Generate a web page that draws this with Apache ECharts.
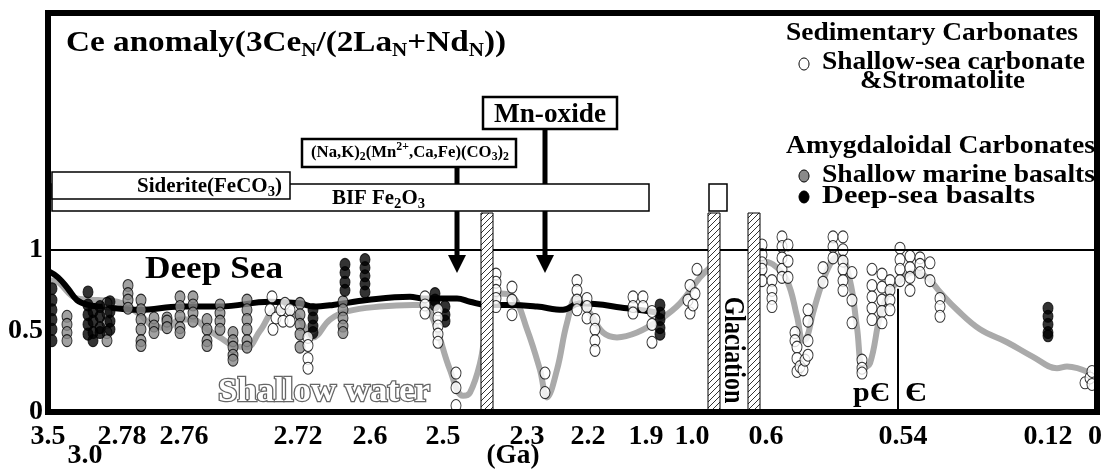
<!DOCTYPE html>
<html><head><meta charset="utf-8">
<script src="https://cdn.jsdelivr.net/npm/echarts@6/dist/echarts.min.js"></script>
<style>html,body{margin:0;padding:0;background:#fff}#c{width:1107px;height:469px}</style>
</head><body><div id="c"></div>
<script>
// x = position along the figure's non-linear age axis (0 = 3.5 Ga at left edge, 1049 = present at right edge)
const xTickLabels = ['3.5','3.0','2.78','2.76','2.72','2.6','2.5','2.3','2.2','1.9','1.0','0.6','0.54','0.12','0'];
const xTickPositions = [0,37,74,136,250,322,395,479,540,598,644,718,855,1000,1047];
const xTickRows = [0,1,0,0,0,0,0,0,0,0,0,0,0,0,0];
const xAxisName = '(Ga)';
const xAxisNamePos = 465;
const yTickValues = [0, 0.5, 1];

const deepSeaCurve = [[0,0.87],[10,0.83],[20,0.76],[29,0.69],[40,0.66],[52,0.65],[92,0.63],[132,0.65],[172,0.65],[222,0.68],[252,0.67],[265,0.65],[285,0.66],[319,0.69],[362,0.71],[375,0.70],[409,0.70],[422,0.68],[439,0.66],[462,0.66],[489,0.65],[515,0.63],[532,0.67],[579,0.64],[612,0.61]];

const shallowWaterCurveEarly = [[0,0.81],[5,0.81],[29,0.70],[50,0.69],[69,0.68],[92,0.60],[105,0.53],[119,0.52],[132,0.57],[145,0.57],[159,0.51],[172,0.46],[185,0.41],[199,0.40],[212,0.50],[229,0.63],[249,0.59],[265,0.46],[282,0.57],[299,0.62],[332,0.65],[365,0.66],[375,0.66],[382,0.61],[389,0.51],[402,0.26],[415,0.10],[422,0.12],[432,0.30],[440,0.57],[452,0.73],[465,0.71],[479,0.51],[492,0.26],[499,0.09],[509,0.26],[519,0.55],[529,0.71],[542,0.61],[555,0.49],[569,0.46],[589,0.49],[612,0.57],[632,0.67],[652,0.83],[662,0.89]];

const shallowWaterCurveLate = [[712,0.93],[725,0.91],[739,0.81],[749,0.59],[755,0.44],[759,0.46],[765,0.61],[775,0.81],[785,0.94],[792,0.96],[802,0.81],[809,0.52],[815,0.27],[822,0.30],[832,0.59],[842,0.75],[852,0.81],[865,0.86],[879,0.83],[892,0.74],[909,0.63],[932,0.51],[959,0.43],[985,0.34],[1009,0.27],[1019,0.28],[1042,0.24]];

const shallowSeaCarbonate = [[224,0.71],[222,0.63],[228,0.58],[235,0.56],[225,0.51],[233,0.63],[237,0.67],[242,0.63],[242,0.56],
[260,0.46],[260,0.41],[260,0.33],[260,0.27],
[377,0.71],[377,0.66],[377,0.61],
[390,0.63],[390,0.58],[390,0.53],[390,0.48],[390,0.43],
[408,0.24],[408,0.15],[408,0.04],
[448,0.85],[448,0.80],[448,0.75],[448,0.70],[448,0.65],
[464,0.77],[464,0.69],[464,0.60],
[497,0.24],[497,0.12],
[529,0.81],[529,0.75],[529,0.69],[529,0.63],
[539,0.70],[539,0.65],[539,0.58],
[547,0.57],[547,0.51],[547,0.44],[547,0.38],
[585,0.71],[585,0.65],[585,0.61],[595,0.71],[595,0.65],
[604,0.62],[604,0.54],[604,0.43],
[649,0.88],[642,0.78],[640,0.69],[647,0.73],[642,0.61],[645,0.66],
[714,1.03],[714,0.97],[714,0.92],[714,0.88],[714,0.81],
[724,0.81],[724,0.75],[724,0.70],[724,0.65],
[734,1.08],[734,1.02],[734,0.95],[734,0.88],[734,0.83],
[740,1.03],[740,0.93],[740,0.83],
[747,0.49],[747,0.44],[749,0.40],[749,0.33],[749,0.25],[752,0.28],[755,0.26],[757,0.32],[760,0.35],[760,0.44],[760,0.56],[760,0.63],
[775,0.89],[775,0.80],
[785,1.08],[785,1.02],[785,0.95],
[795,1.08],[795,1.00],[795,0.93],[795,0.88],[795,0.81],[795,0.75],
[804,0.86],[804,0.69],[804,0.55],
[814,0.32],[814,0.27],[814,0.24],
[824,0.88],[824,0.78],[824,0.71],[824,0.64],[824,0.57],
[834,0.85],[834,0.77],[834,0.69],[834,0.62],[834,0.55],
[842,0.81],[842,0.75],[842,0.69],[842,0.63],
[852,1.01],[852,0.94],[852,0.88],[852,0.81],
[862,0.96],[862,0.89],[862,0.83],[862,0.75],
[872,0.95],[872,0.91],[872,0.86],
[882,0.92],[882,0.81],
[892,0.70],[892,0.65],[892,0.59],
[1037,0.18],[1042,0.21],[1044,0.25],[1044,0.17]];

const shallowMarineBasalt = [[19,0.59],[19,0.54],[19,0.49],[19,0.44],
[59,0.67],[59,0.61],[59,0.55],[59,0.49],[59,0.44],
[80,0.78],[80,0.73],[80,0.69],[80,0.64],
[93,0.69],[93,0.63],[93,0.57],[93,0.51],[93,0.44],[93,0.41],
[106,0.58],[106,0.53],[106,0.49],
[119,0.58],[119,0.56],[119,0.52],
[132,0.71],[132,0.65],[132,0.59],[132,0.52],[132,0.49],
[145,0.71],[145,0.66],[145,0.61],[145,0.56],
[159,0.57],[159,0.51],[159,0.44],[159,0.41],
[172,0.66],[172,0.61],[172,0.56],[172,0.51],
[185,0.49],[185,0.44],[185,0.40],[185,0.35],[185,0.32],
[199,0.69],[199,0.63],[199,0.57],[199,0.51],[199,0.44],[199,0.40],
[252,0.67],[252,0.60],[252,0.54],[252,0.48],[252,0.40],
[295,0.68],[295,0.63],[295,0.58],[295,0.53],[295,0.49]];

const deepSeaBasalt = [[4,0.76],[4,0.69],[4,0.63],[4,0.57],[4,0.51],[4,0.44],
[40,0.74],[40,0.66],[40,0.60],[40,0.54],[40,0.48],
[45,0.62],[45,0.56],[45,0.49],[45,0.44],
[52,0.65],[52,0.59],[52,0.52],[52,0.49],
[62,0.68],[62,0.62],[62,0.56],[62,0.51],
[265,0.63],[265,0.58],[265,0.53],[265,0.49],
[297,0.91],[297,0.86],[297,0.80],[297,0.75],
[317,0.94],[317,0.89],[317,0.84],[317,0.79],[317,0.74],
[387,0.73],[387,0.69],[387,0.66],
[397,0.65],[397,0.60],[397,0.56],
[612,0.66],[612,0.61],[612,0.57],[612,0.52],[612,0.48],
[1000,0.64],[1000,0.59],[1000,0.54],[1000,0.49],[1000,0.47]];

const boundaryPos = 850;      // Precambrian / Cambrian boundary line
const boundaryTop = 0.76;

const FAMILY = '"Liberation Serif","Times New Roman",serif';
const fontStr = s => 'bold ' + s + 'px ' + FAMILY;
const mctx = document.createElement('canvas').getContext('2d');

function runEls(pieces, opt) {
  const widths = pieces.map(p => { mctx.font = fontStr(p.s); return mctx.measureText(p.t).width; });
  const total = widths.reduce((a, b) => a + b, 0);
  const sx = opt.w ? opt.w / total : (opt.sx || 1);
  let cx = opt.align === 'center' ? opt.x - total * sx / 2 : opt.align === 'right' ? opt.x - total * sx : opt.x;
  const els = [];
  pieces.forEach((p, i) => {
    const st = { text: p.t, font: fontStr(p.s), fill: opt.fill || '#000', align: 'left', verticalAlign: 'middle', textAlign: 'left', textVerticalAlign: 'middle' };
    if (opt.stroke) { st.stroke = opt.stroke; st.lineWidth = opt.lineWidth || 1; }
    els.push({ type: 'text', x: cx, y: opt.y + (p.dy || 0), scaleX: sx, z: opt.z || 50, silent: true, style: st });
    cx += widths[i] * sx;
  });
  return els;
}

function hatchCanvas() {
  const c = document.createElement('canvas'); c.width = 6; c.height = 6;
  const g = c.getContext('2d');
  g.fillStyle = '#fff'; g.fillRect(0, 0, 6, 6);
  g.strokeStyle = '#000'; g.lineWidth = 0.8;
  g.beginPath(); g.moveTo(0, 6); g.lineTo(6, 0); g.moveTo(-1, 1); g.lineTo(1, -1); g.moveTo(5, 7); g.lineTo(7, 5); g.stroke();
  return c;
}

const chart = echarts.init(document.getElementById('c'), null, { renderer: 'canvas' });
const ptStyle = c => ({ color: c, borderColor: '#000', borderWidth: 1 });
const option = {
  animation: false,
  backgroundColor: '#fff',
  grid: { left: 48, right: 10, top: 13, bottom: 57, show: false },
  xAxis: { type: 'value', min: 0, max: 1049, axisLine: { show: false }, axisTick: { show: false }, axisLabel: { show: false }, splitLine: { show: false } },
  yAxis: { type: 'value', min: 0, max: 2.46, interval: 0.5,
    axisLine: { show: false }, axisTick: { show: false }, splitLine: { show: false },
    axisLabel: { margin: 5, color: '#000', fontFamily: FAMILY, fontWeight: 'bold', fontSize: 28,
      formatter: v => (yTickValues.indexOf(v) >= 0 ? String(v) : '') } },
  series: [
    { type: 'line', data: shallowWaterCurveEarly, smooth: 0.4, symbol: 'none', lineStyle: { color: '#aaaaaa', width: 6 }, z: 1, silent: true },
    { type: 'line', data: shallowWaterCurveLate, smooth: 0.4, symbol: 'none', lineStyle: { color: '#aaaaaa', width: 6 }, z: 1, silent: true,
      markLine: { silent: true, symbol: 'none', label: { show: false }, lineStyle: { color: '#000', width: 2, type: 'solid' },
        data: [[{ coord: [boundaryPos, 0] }, { coord: [boundaryPos, boundaryTop] }]] } },
    { type: 'line', data: deepSeaCurve, smooth: 0.4, symbol: 'none', lineStyle: { color: '#000', width: 6 }, z: 2, silent: true,
      markLine: { silent: true, symbol: 'none', label: { show: false }, lineStyle: { color: '#000', width: 2, type: 'solid' }, data: [{ yAxis: 1 }] } },
    { type: 'scatter', data: shallowMarineBasalt, symbol: 'circle', symbolSize: [10, 12], itemStyle: ptStyle('#8a8a8a'), z: 3 },
    { type: 'scatter', data: deepSeaBasalt, symbol: 'circle', symbolSize: [10, 12], itemStyle: ptStyle('#000'), z: 3 },
    { type: 'scatter', data: shallowSeaCarbonate, symbol: 'circle', symbolSize: [10, 12], itemStyle: ptStyle('#fff'), z: 3 }
  ]
};
chart.setOption(option);

const toPx = (x, y) => chart.convertToPixel({ gridIndex: 0 }, [x, y]);
const rowY = [437, 456];
const g = [];
// tick labels
xTickLabels.forEach((t, i) => {
  const p = toPx(xTickPositions[i], 0);
  g.push({ type: 'text', x: p[0], y: rowY[xTickRows[i]], z: 50, silent: true,
    style: { text: t, font: fontStr(28), fill: '#000', align: 'center', verticalAlign: 'middle', textAlign: 'center', textVerticalAlign: 'middle' } });
});
g.push(...runEls([{ t: xAxisName, s: 28 }], { x: toPx(xAxisNamePos, 0)[0], y: rowY[1], align: 'center', w: 53 }));

// frame
const tl = toPx(0, 2.46), br = toPx(1049, 0);
g.push({ type: 'rect', z: 60, silent: true, shape: { x: tl[0], y: tl[1], width: br[0] - tl[0], height: br[1] - tl[1] }, style: { fill: 'none', stroke: '#000', lineWidth: 6 } });

// title
g.push(...runEls([{ t: 'Ce anomaly(3Ce', s: 30 }, { t: 'N', s: 19, dy: 8 }, { t: '/(2La', s: 30 }, { t: 'N', s: 19, dy: 8 }, { t: '+Nd', s: 30 }, { t: 'N', s: 19, dy: 8 }, { t: '))', s: 30 }], { x: 66, y: 43, w: 440 }));

// legend
g.push(...runEls([{ t: 'Sedimentary Carbonates', s: 25 }], { x: 786, y: 34, w: 292 }));
g.push(...runEls([{ t: 'Shallow-sea carbonate', s: 25 }], { x: 822, y: 63, w: 263 }));
g.push(...runEls([{ t: '&Stromatolite', s: 25 }], { x: 860, y: 82, w: 165 }));
g.push(...runEls([{ t: 'Amygdaloidal Carbonates', s: 25 }], { x: 786, y: 147, w: 309 }));
g.push(...runEls([{ t: 'Shallow marine basalts', s: 25 }], { x: 822, y: 176, w: 273 }));
g.push(...runEls([{ t: 'Deep-sea basalts', s: 25 }], { x: 822, y: 197, w: 213 }));
[['#fff', 64], ['#8a8a8a', 176], ['#000', 197]].forEach(([c, y]) => {
  g.push({ type: 'ellipse', z: 50, silent: true, shape: { cx: 804, cy: y, rx: 5, ry: 6 }, style: { fill: c, stroke: '#000', lineWidth: 1 } });
});

// arrows (under the BIF box)
[[457, 167], [545, 129]].forEach(([x, y0]) => {
  g.push({ type: 'line', z: 40, silent: true, shape: { x1: x, y1: y0, x2: x, y2: 258 }, style: { stroke: '#000', lineWidth: 5 } });
  g.push({ type: 'polygon', z: 40, silent: true, shape: { points: [[x - 9, 255], [x + 9, 255], [x, 273]] }, style: { fill: '#000' } });
});
// boxes
const box = (x, y, w, h, lw, z) => ({ type: 'rect', z: z, silent: true, shape: { x, y, width: w, height: h }, style: { fill: '#fff', stroke: '#000', lineWidth: lw } });
g.push(box(52, 184, 597, 27, 1.5, 44));
g.push(box(52, 172, 238, 27, 1.5, 45));
g.push(box(709, 184, 18, 27, 1.5, 45));
g.push(box(302, 139, 214, 28, 2.5, 45));
g.push(box(483, 97, 134, 32, 2.5, 45));
g.push(...runEls([{ t: 'Siderite(FeCO', s: 20 }, { t: '3', s: 14, dy: 5 }, { t: ')', s: 20 }], { x: 137, y: 187, w: 145 }));
g.push(...runEls([{ t: 'BIF Fe', s: 20 }, { t: '2', s: 14, dy: 5 }, { t: 'O', s: 20 }, { t: '3', s: 14, dy: 5 }], { x: 332, y: 199, w: 93 }));
g.push(...runEls([{ t: '(Na,K)', s: 17 }, { t: '2', s: 12, dy: 4 }, { t: '(Mn', s: 17 }, { t: '2+', s: 12, dy: -6 }, { t: ',Ca,Fe)(CO', s: 17 }, { t: '3', s: 12, dy: 4 }, { t: ')', s: 17 }, { t: '2', s: 12, dy: 4 }], { x: 311, y: 153, w: 198 }));
g.push(...runEls([{ t: 'Mn-oxide', s: 28 }], { x: 550, y: 115, w: 112, align: 'center' }));

// hatched glaciation bars
const hc = hatchCanvas();
[[481, 12], [708, 12], [748, 12]].forEach(([x, w]) => {
  g.push({ type: 'rect', z: 30, silent: true, shape: { x, y: 213, width: w, height: br[1] - 213 }, style: { fill: { image: hc, repeat: 'repeat' }, stroke: '#000', lineWidth: 1 } });
});
g.push({ type: 'text', x: 733, y: 350, rotation: -Math.PI / 2, scaleY: 1.25, z: 50, silent: true,
  style: { text: 'Glaciation', font: fontStr(24), fill: '#000', align: 'center', verticalAlign: 'middle', textAlign: 'center', textVerticalAlign: 'middle' } });

// in-plot labels
g.push(...runEls([{ t: 'Deep Sea', s: 31 }], { x: 145, y: 270, w: 138 }));
g.push(...runEls([{ t: 'Shallow water', s: 33 }], { x: 218, y: 392, w: 212, fill: '#fff', stroke: '#666', lineWidth: 2.5 }));
g.push(...runEls([{ t: 'p\u0404', s: 28 }], { x: 890, y: 394, w: 37, align: 'right' }));
g.push(...runEls([{ t: '\u0404', s: 28 }], { x: 905, y: 394, w: 22 }));

chart.setOption({ graphic: { elements: g } });
</script>
</body></html>
